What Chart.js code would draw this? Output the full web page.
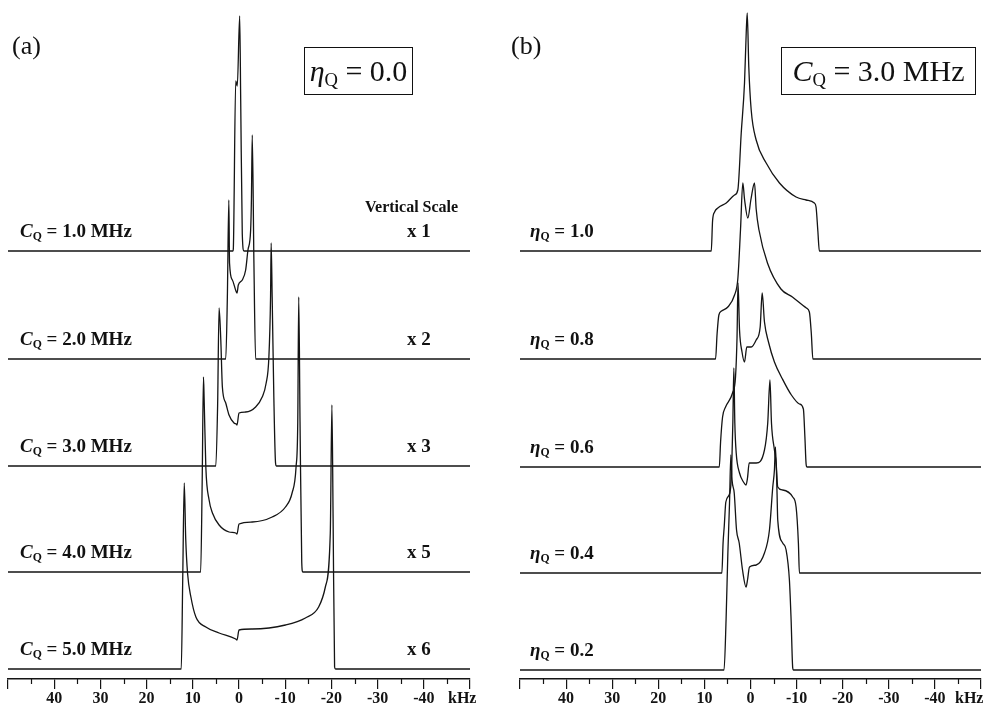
<!DOCTYPE html>
<html><head><meta charset="utf-8">
<script src="https://cdn.jsdelivr.net/npm/chart.js@4.4.1/dist/chart.umd.min.js"></script>
<style>
html,body{margin:0;padding:0;background:#fff;}
#wrap{position:relative;width:986px;height:707px;overflow:hidden;font-family:"Liberation Serif","Times New Roman",serif;color:#111;}
.panel{position:absolute;top:0;width:493px;height:707px;}
.t{position:absolute;white-space:nowrap;line-height:1;}
.lab{font-weight:bold;font-size:19px;}
.sub{font-size:0.62em;position:relative;top:0.28em;}
.box{position:absolute;border:1.5px solid #111;box-sizing:border-box;font-size:30px;line-height:1;display:flex;align-items:center;justify-content:center;white-space:nowrap;}
</style></head><body>
<div id="wrap">
<div class="panel" style="left:0"><canvas id="ca" width="493" height="707"></canvas></div>
<div class="panel" style="left:493px"><canvas id="cb" width="493" height="707"></canvas></div>
</div>
<script>
// ---------- DATA (frequency in kHz, intensity in arbitrary units above each trace's baseline) ----------
const majorTickValues = [40, 30, 20, 10, 0, -10, -20, -30, -40];
const minorTickValues = [45, 35, 25, 15, 5, -5, -15, -25, -35, -45];

// Panel (a): eta_Q = 0.0, varying C_Q
const cqLabels   = ['1.0', '2.0', '3.0', '4.0', '5.0'];
const cqScales   = ['x 1', 'x 2', 'x 3', 'x 5', 'x 6'];
const cq10_kHz = [50, 1.30, 1.23, 0.71, 0.37, -0.15, -0.37, -0.71, -1.08, -50];
const cq10_int = [0, 0, 2, 170, 165, 235, 150, 17, 0, 0];
const cq20_kHz = [50, 2.87, 2.52, 2.20, 2.05, 1.44, 0.58, 0.43, 0.15, -0.71, -1.44, -1.94, -2.52, -2.69, -2.87, -3.23, -3.60, -50];
const cq20_int = [0, 0, 62, 159, 96, 79, 67, 66, 74, 79, 89, 109, 129, 160, 224, 96, 0, 0];
const cq30_kHz = [50, 5.02, 4.63, 4.31, 3.94, 3.60, 2.87, 2.16, 1.08, 0.58, 0.43, 0.0, -1.44, -3.60, -5.02, -5.88, -6.47, -6.83, -6.96, -7.18, -7.54, -7.91, -8.08, -50];
const cq30_int = [0, 0, 60, 158, 126, 79, 63, 51, 43, 42, 41, 53, 54, 59, 69, 83, 109, 169, 223, 169, 69, 3, 0, 0];
const cq40_kHz = [50, 8.30, 7.97, 7.69, 7.54, 7.18, 6.47, 5.75, 4.31, 2.16, 0.71, 0.43, 0, -2.87, -7.18, -10.06, -11.49, -12.35, -12.72, -12.93, -13.21, -13.58, -13.79, -50];
const cq40_int = [0, 0, 90, 195, 172, 105, 72, 59, 47, 40, 39, 38, 48, 50, 55, 65, 79, 105, 150, 275, 150, 10, 0, 0];
const cq50_kHz = [50, 12.5, 12.18, 11.85, 11.53, 11.14, 10.41, 9.33, 7.18, 4.31, 0.71, 0.43, 0, -2.87, -10.06, -14.37, -17.24, -18.69, -19.76, -20.11, -20.37, -20.69, -20.91, -50];
const cq50_int = [0, 0, 90, 186, 130, 96, 72, 52, 42, 36, 30, 29, 39, 40, 44, 51, 62, 82, 136, 264, 150, 2, 0, 0];

// Panel (b): C_Q = 3.0 MHz, varying eta_Q
const etaLabels = ['1.0', '0.8', '0.6', '0.4', '0.2'];
const eta10_kHz = [50, 8.51, 8.23, 7.79, 7.08, 5.26, 3.46, 2.75, 2.01, 1.30, 0.93, 0.71, 0.37, -0.15, -1.23, -3.40, -6.28, -9.89, -12.06, -13.85, -14.22, -14.61, -14.94, -50];
const eta10_int = [0, 0, 30, 39, 43, 48, 56, 61, 118, 168, 218, 238, 184, 141, 111, 88, 68, 54, 51, 48, 44, 20, 0, 0];
const eta08_kHz = [50, 7.58, 7.25, 6.86, 6.28, 4.91, 3.46, 2.75, 2.16, 1.67, 1.30, 0.58, -0.11, -0.87, -1.23, -1.84, -3.68, -6.60, -9.09, -12.12, -12.77, -13.20, -13.53, -50];
const eta08_int = [0, 0, 25, 44, 48, 52, 64, 80, 130, 176, 160, 141, 160, 176, 150, 129, 96, 70, 62, 51, 47, 25, 0, 0];
const eta06_kHz = [50, 6.77, 6.49, 6.06, 5.41, 3.90, 3.25, 2.92, 2.71, 2.38, 1.84, 1.30, 0.80, -0.15, -1.23, -2.10, -2.53, -3.03, -3.90, -5.19, -6.93, -8.87, -10.61, -11.47, -11.80, -12.06, -12.23, -50];
const eta06_int = [0, 0, 25, 50, 60, 74, 90, 130, 184, 137, 115, 105, 120, 120, 127, 140, 174, 145, 125, 105, 88, 72, 63, 58, 30, 3, 0, 0];
const eta04_kHz = [50, 6.21, 5.95, 5.69, 5.35, 4.48, 4.11, 3.83, 3.61, 3.40, 3.10, 2.38, 1.52, 0.97, 0.65, 0.28, -1.23, -3.03, -3.74, -4.22, -4.55, -5.19, -5.56, -5.91, -6.99, -9.16, -9.89, -10.39, -10.61, -50];
const eta04_int = [0, 0, 30, 47, 71, 80, 100, 150, 205, 150, 120, 100, 91, 88, 95, 110, 110, 123, 150, 193, 150, 123, 110, 86, 83, 76, 66, 30, 0, 0];
const eta02_kHz = [50, 5.74, 5.30, 4.91, 4.55, 4.26, 4.00, 3.53, 3.03, 2.45, 1.73, 0.97, 0.65, 0.22, -1.23, -3.03, -4.11, -4.83, -5.19, -5.41, -5.74, -5.91, -6.99, -7.73, -8.44, -8.81, -9.16, -9.31, -50];
const eta02_int = [0, 0, 50, 117, 167, 215, 190, 177, 140, 127, 100, 83, 90, 103, 105, 117, 140, 183, 200, 223, 180, 150, 127, 120, 90, 50, 2, 0, 0];

// stacking offsets of the five traces (top to bottom)
const offsetsA = [428, 320, 213, 107, 10];
const offsetsB = [428, 320, 212, 106, 9];

// ---------- BUILD ----------
const seriesA = [[cq10_kHz, cq10_int], [cq20_kHz, cq20_int], [cq30_kHz, cq30_int], [cq40_kHz, cq40_int], [cq50_kHz, cq50_int]];
const seriesB = [[eta10_kHz, eta10_int], [eta08_kHz, eta08_int], [eta06_kHz, eta06_int], [eta04_kHz, eta04_int], [eta02_kHz, eta02_int]];
const INK = '#141414';
const FONT = '"Liberation Serif", "Times New Roman", serif';

const minorTicks = {
  id: 'minorTicks',
  afterDraw(chart) {
    const s = chart.scales.x, ctx = chart.ctx, y0 = chart.chartArea.bottom;
    ctx.save(); ctx.strokeStyle = INK; ctx.lineWidth = 1.2;
    for (const v of minorTickValues) {
      const px = Math.round(s.getPixelForValue(v)) + 0.5;
      ctx.beginPath(); ctx.moveTo(px, y0); ctx.lineTo(px, y0 + 5); ctx.stroke();
    }
    ctx.restore();
  }
};

function makeChart(id, series, offsets, pad) {
  const datasets = series.map((s, k) => ({
    data: s[0].map((x, i) => ({ x: x, y: offsets[k] + s[1][i] })),
    borderColor: INK, borderWidth: 1.3, pointRadius: 0, fill: false,
    cubicInterpolationMode: 'monotone'
  }));
  return new Chart(document.getElementById(id), {
    type: 'line',
    data: { datasets },
    options: {
      responsive: false, animation: false, devicePixelRatio: 1,
      layout: { padding: pad },
      plugins: { legend: { display: false }, tooltip: { enabled: false } },
      scales: {
        x: {
          type: 'linear', min: -50, max: 50, reverse: true,
          afterFit(scale) { scale.height = 28; },
          border: { display: true, color: INK, width: 1.6 },
          grid: { display: true, drawOnChartArea: false, drawTicks: true, tickLength: 10, color: INK, lineWidth: 1.2 },
          ticks: {
            stepSize: 10, autoSkip: false, maxRotation: 0, padding: 0, color: INK,
            font: { family: FONT, size: 16, weight: 'bold' },
            callback: v => majorTickValues.includes(v) ? String(v) : ''
          }
        },
        y: { display: false, min: 0, max: 670 }
      }
    },
    plugins: [minorTicks]
  });
}

const chartA = makeChart('ca', seriesA, offsetsA, { left: 8, right: 23, top: 9, bottom: 0 });
const chartB = makeChart('cb', seriesB, offsetsB, { left: 27, right: 5, top: 9, bottom: 0 });

// ---------- TEXT ----------
const wrap = document.getElementById('wrap');
function addText(html, left, top, cls, style) {
  const d = document.createElement('div');
  d.className = 't ' + (cls || '');
  d.innerHTML = html;
  d.style.left = left + 'px'; d.style.top = top + 'px';
  if (style) Object.assign(d.style, style);
  wrap.appendChild(d);
  return d;
}
offsetsA.forEach((o, k) => {
  const py = chartA.scales.y.getPixelForValue(o);
  addText('<i>C</i><span class="sub">Q</span> = ' + cqLabels[k] + ' MHz', 20, py - 30, 'lab');
  addText(cqScales[k], 407, py - 30, 'lab');
});
offsetsB.forEach((o, k) => {
  const py = chartB.scales.y.getPixelForValue(o);
  addText('<i>η</i><span class="sub">Q</span> = ' + etaLabels[k], 530, py - 30, 'lab');
});
addText('Vertical Scale', 365, 199, 'lab', { fontSize: '16px' });
addText('(a)', 12, 33, '', { fontSize: '26px' });
addText('(b)', 511, 33, '', { fontSize: '26px' });
addText('kHz', 448, 690, 'lab', { fontSize: '16px' });
addText('kHz', 955, 690, 'lab', { fontSize: '16px' });

const boxA = document.createElement('div');
boxA.className = 'box';
Object.assign(boxA.style, { left: '304px', top: '47px', width: '109px', height: '48px' });
boxA.innerHTML = '<span><i>η</i><span class="sub">Q</span> = 0.0</span>';
wrap.appendChild(boxA);
const boxB = document.createElement('div');
boxB.className = 'box';
Object.assign(boxB.style, { left: '781px', top: '47px', width: '195px', height: '48px' });
boxB.innerHTML = '<span><i>C</i><span class="sub">Q</span> = 3.0 MHz</span>';
wrap.appendChild(boxB);
</script>
</body></html>
